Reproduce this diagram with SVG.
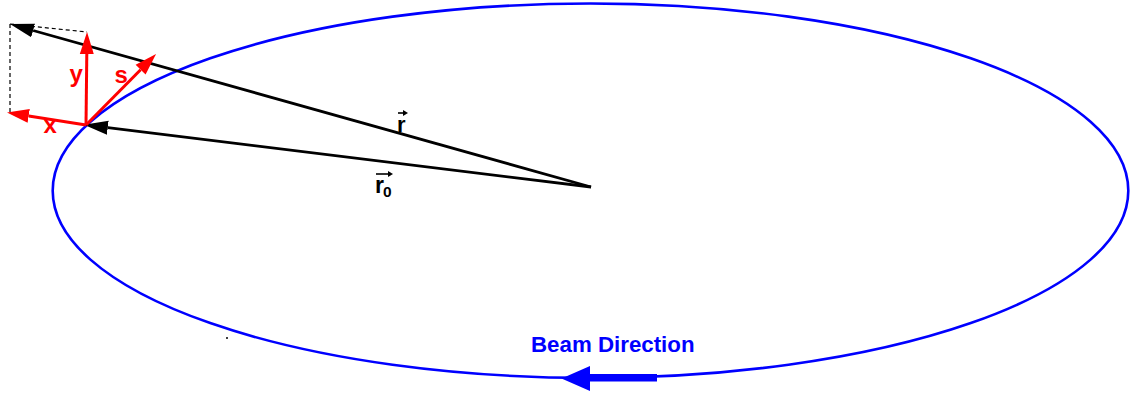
<svg xmlns="http://www.w3.org/2000/svg" width="1137" height="395" viewBox="0 0 1137 395">
<style>
.lbl{font-family:"Liberation Sans",Arial,sans-serif;font-weight:bold}
.blk{stroke:#000;stroke-width:2.8;fill:none}
.red{stroke:#ff0000;stroke-width:3;fill:none}
.dash{stroke:#000;stroke-width:1.2;stroke-dasharray:4,3;fill:none}
</style>
<defs>
<marker id="ahB" markerUnits="userSpaceOnUse" markerWidth="26" markerHeight="16" viewBox="0 -8 26 16" refX="0" refY="0" orient="auto">
<path d="M0,-7 L24,0 L0,7 Z" fill="#000"/>
</marker>
<marker id="ahR" markerUnits="userSpaceOnUse" markerWidth="24" markerHeight="16" viewBox="0 -8 24 16" refX="0" refY="0" orient="auto">
<path d="M0,-7 L22,0 L0,7 Z" fill="#ff0000"/>
</marker>
<marker id="ahS" markerUnits="userSpaceOnUse" markerWidth="8" markerHeight="8" viewBox="0 -4 8 8" refX="0" refY="0" orient="auto">
<path d="M0,-3 L5,0 L0,3 Z" fill="#000"/>
</marker>
</defs>

<g id="ring">
<ellipse cx="590.5" cy="190.7" rx="537.8" ry="187.2" fill="none" stroke="#0000ff" stroke-width="2.6"/>
</g>

<g id="beam-direction">
<polygon points="657,374 590,374 590,366 561.5,378.5 590,391 590,381.5 657,381.5" fill="#0000ff"/>
<text class="lbl" x="531" y="352" font-size="22.3" fill="#0000ff">Beam Direction</text>
</g>

<g id="dot">
<circle cx="227" cy="338" r="1" fill="#000"/>
</g>

<g id="connectors">
<line class="dash" x1="10" y1="24" x2="87" y2="32"/>
<line class="dash" x1="10" y1="24" x2="10" y2="113"/>
<line class="blk" x1="591" y1="187" x2="33.1" y2="30.5" marker-end="url(#ahB)"/>
<line class="blk" x1="591" y1="187" x2="107.8" y2="127.7" marker-end="url(#ahB)"/>
<line class="red" x1="86" y1="125" x2="86.8" y2="54" marker-end="url(#ahR)"/>
<line class="red" x1="86" y1="125" x2="140.6" y2="69.7" marker-end="url(#ahR)"/>
<line class="red" x1="86" y1="125" x2="28.7" y2="115.9" marker-end="url(#ahR)"/>
</g>

<g id="label-r">
<text class="lbl" x="397" y="131.5" font-size="22" fill="#000">r</text>
<line x1="398" y1="113" x2="403" y2="113" stroke="#000" stroke-width="1.6" marker-end="url(#ahS)"/>
</g>

<g id="label-r0">
<text class="lbl" x="375" y="193" font-size="23" fill="#000">r</text>
<text class="lbl" x="383" y="197" font-size="15.5" fill="#000">0</text>
<line x1="376" y1="174" x2="388" y2="174" stroke="#000" stroke-width="1.6" marker-end="url(#ahS)"/>
</g>

<g id="label-x">
<text class="lbl" x="43.5" y="133.3" font-size="24" fill="#ff0000">x</text>
</g>
<g id="label-y">
<text class="lbl" x="69.5" y="82" font-size="24" fill="#ff0000">y</text>
</g>
<g id="label-s">
<text class="lbl" x="114.5" y="82.5" font-size="24" fill="#ff0000">s</text>
</g>
</svg>
